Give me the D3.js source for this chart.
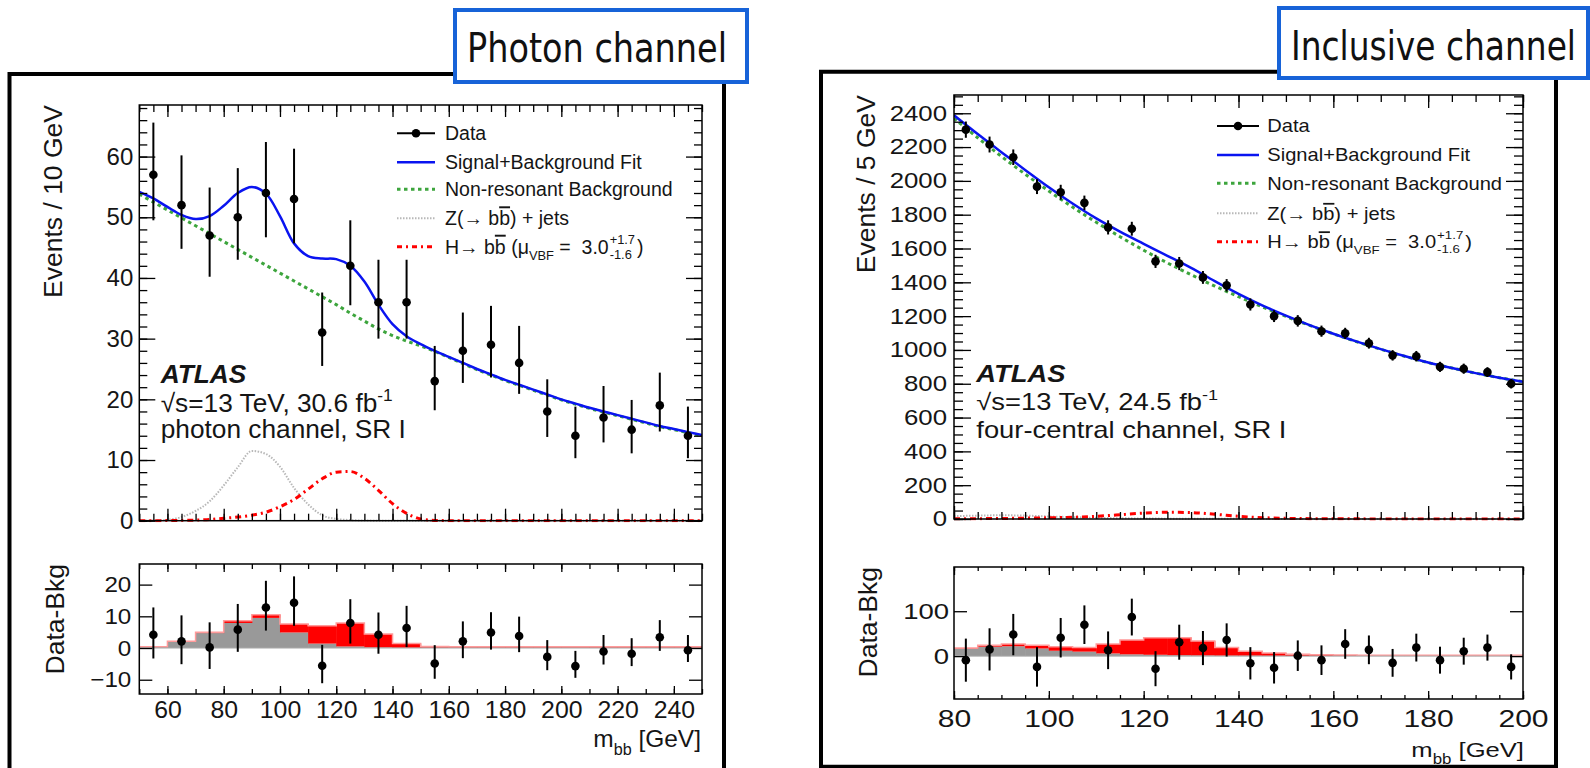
<!DOCTYPE html>
<html><head><meta charset="utf-8">
<script src="https://cdn.jsdelivr.net/npm/d3@7"></script>
<style>
body{margin:0;background:#fff;}
svg{display:block;}
text{font-family:"Liberation Sans",Arial,Helvetica,sans-serif;fill:#151515;white-space:pre;}
</style></head><body>
<svg id="c" width="1590" height="768"></svg>
<script>
// ---------------- DATA: photon channel (left) ----------------
const massL   = [55,65,75,85,95,105,115,125,135,145,155,165,175,185,195,205,215,225,235,245];
const dataL   = [57,52,47,50,54,53,31,42,36,36,23,28,29,26,18,14,17,15,19,14];
const errLoL  = [7.5,7.2,6.8,7.0,7.3,7.3,5.5,6.5,6.0,6.0,4.8,5.3,5.4,5.1,4.2,3.7,4.1,3.9,4.3,3.7];
const errHiL  = [8.6,8.2,7.9,8.1,8.4,8.3,6.6,7.5,7.0,7.0,5.8,6.3,6.4,6.1,5.3,4.8,5.2,4.9,5.4,4.8];
const residL  = [4.2,2.1,0.2,5.8,12.8,14.3,-5.6,7.9,4.2,6.3,-4.9,2.1,4.9,3.8,-2.8,-5.7,-1.1,-1.8,3.4,-0.7];
const gridL   = d3.range(50, 250.1, 5);
const fitL    = [54.2,53.1,51.7,50.4,49.7,50.2,51.9,54.0,55.0,53.9,50.2,45.7,43.6,43.2,43.1,42.0,39.4,35.6,32.4,30.4,29.1,28.0,
                 27.0,26.0,25.0,24.1,23.2,22.4,21.6,20.8,20.0,19.3,18.6,18.0,17.4,16.8,16.2,15.6,15.1,14.6,14.1];
const bgL     = [53.8,52.5,51.2,49.9,48.6,47.3,46.0,44.7,43.4,42.1,40.8,39.5,38.2,36.9,35.6,34.2,32.9,31.6,30.5,29.6,28.8,
                 27.9,26.9,25.9,24.9,24.0,23.1,22.3,21.5,20.7,19.9,19.2,18.5,17.9,17.3,16.7,16.1,15.5,15.0,14.5,14.0];
const zL      = [0,0.02,0.15,0.6,1.6,3.2,5.8,8.8,11.5,11.0,8.9,5.4,2.7,0.9,0.3,0.1,0.03,
                 0,0,0,0,0,0,0,0,0,0,0,0,0,0,0,0,0,0,0,0,0,0,0,0];
const hL      = [0,0,0.02,0.05,0.1,0.2,0.4,0.6,0.9,1.4,2.3,3.5,5.2,6.9,8.0,8.1,7.0,5.0,2.8,1.2,0.3,0.05,
                 0,0,0,0,0,0,0,0,0,0,0,0,0,0,0,0,0,0,0];
const binsL   = [50,60,70,80,90,100,110,120,130,140,150,160,170,180,190,200,210,220,230,240];
const zBinsL  = [0.3,1.9,4.7,7.9,9.5,4.9,1.4,0.5,0.2,0.1,0.1,0.1,0.1,0.1,0.1,0.1,0.1,0.1,0.1,0.1];
const hBinsL  = [0.1,0.2,0.3,0.7,1.0,2.7,5.6,7.4,4.2,1.3,0.4,0.3,0.3,0.3,0.3,0.3,0.3,0.3,0.3,0.3];

// ---------------- DATA: inclusive channel (right) ----------------
const massR   = [82.5,87.5,92.5,97.5,102.5,107.5,112.5,117.5,122.5,127.5,132.5,137.5,142.5,147.5,152.5,157.5,162.5,167.5,172.5,177.5,182.5,187.5,192.5,197.5];
const dataR   = [2303,2215,2140,1966,1933,1870,1725,1717,1524,1511,1429,1382,1269,1200,1172,1111,1098,1040,968,963,900,889,869,800];
const errR    = [48,47,46,44,44,43,42,41,39,39,38,37,36,35,34,33,33,32,31,31,30,30,29,28];
const residR  = [-9,15,48,-24,41,70,13,87,-28,31,18,36,-16,-26,1,-9,27,14,-15,19,-9,11,19,-24];
const gridR   = d3.range(80, 200.1, 5);
const fitR    = [2388,2277,2170,2065,1962,1866,1778,1700,1628,1557,1485,1407,1332,1264,1203,1147,1096,1049,1005,964,926,893,863,836,812];
const bgR     = [2370,2255,2145,2040,1940,1845,1755,1670,1590,1515,1445,1378,1315,1255,1198,1145,1095,1048,1004,963,925,893,863,836,812];
const zR      = [17,20,22,20,15,11,7,4.5,3,2,1.5,1,0.8,0.6,0.5,0.4,0.3,0.3,0.2,0.2,0.2,0.1,0.1,0.1,0.1];
const hR      = [1,2,3,5,7,10,16,25,35,40,38,28,16,8,4,2,1,0.8,0.6,0.5,0.4,0.3,0.3,0.2,0.2];
const binsR   = [80,85,90,95,100,105,110,115,120,125,130,135,140,145,150,155,160,165,170,175,180,185,190,195];
const zBinsR  = [17,21,22,17,12,10,6,4,3,2,1.5,1,1,0.8,0.6,0.5,0.4,0.4,0.3,0.3,0.3,0.2,0.2,0.2];
const hBinsR  = [1,3,5,7,9,9,21,32,38,39,32,18,10,6,3.5,2.5,2,1.6,1.6,1.6,1.6,1.6,1.6,1.6];

// ---------------- TEXT ----------------
const legendLabels = ["Data","Signal+Background Fit","Non-resonant Background"];

// ---------------- DRAWING ----------------
const svg = d3.select("#c");
const defs = svg.append("defs");
const BLUE = "#0a14f0", GREEN = "#3da53d", RED = "#ff0000", GRAYL = "#b8b8b8";

function addText(parent, x, y, str, o = {}) {
  return parent.append("text")
    .attr("transform", `translate(${x},${y}) rotate(${o.rot || 0}) scale(${o.sx || 1},1)`)
    .attr("text-anchor", o.anchor || "start")
    .style("font-size", (o.size || 20) + "px")
    .style("font-weight", o.weight || "normal")
    .style("font-style", o.style || "normal")
    .text(str);
}
function rich(parent, x, y, parts, size, sx, anchor) {
  const t = parent.append("text")
    .attr("transform", `translate(${x},${y}) scale(${sx},1)`)
    .attr("text-anchor", anchor || "start")
    .style("font-size", size + "px");
  let shift = 0;
  parts.forEach(p => {
    const target = p.sub ? size * 0.32 : p.sup ? -size * 0.42 : 0;
    const ts = t.append("tspan").attr("dy", target - shift).text(p.t);
    if (p.sub || p.sup) ts.style("font-size", (size * 0.66) + "px");
    if (p.over) ts.style("text-decoration", "overline");
    shift = target;
  });
  return t;
}

function ticks(g, x, y, c) {
  const [x0, x1] = x.range(); const [yb, yt] = y.range();
  const mk = (axis, tr) => g.append("g").attr("transform", tr).call(axis)
    .call(s => s.select(".domain").remove())
    .call(s => s.selectAll(".tick line").attr("stroke", "#000").attr("stroke-width", 1.3))
    .attr("font-family", null).attr("font-size", null);
  const xb = mk(d3.axisBottom(x).tickValues(c.xMaj).tickSize(-c.xMajLen).tickPadding(c.xPad || 0)
      .tickFormat(c.xLabels ? d3.format("d") : ""), `translate(0,${yb})`);
  mk(d3.axisBottom(x).tickValues(c.xMin).tickSize(-c.xMinLen).tickFormat(""), `translate(0,${yb})`);
  mk(d3.axisTop(x).tickValues(c.xMaj).tickSize(-c.xMajLen).tickFormat(""), `translate(0,${yt})`);
  mk(d3.axisTop(x).tickValues(c.xMin).tickSize(-c.xMinLen).tickFormat(""), `translate(0,${yt})`);
  const yl = mk(d3.axisLeft(y).tickValues(c.yMaj).tickSize(-c.yMajLen).tickPadding(c.yPad).tickFormat(d3.format("d")), `translate(${x0},0)`);
  mk(d3.axisRight(y).tickValues(c.yMaj).tickSize(-c.yMajLen).tickFormat(""), `translate(${x1},0)`);
  if (c.yMin) {
    mk(d3.axisLeft(y).tickValues(c.yMin).tickSize(-c.yMinLen).tickFormat(""), `translate(${x0},0)`);
    mk(d3.axisRight(y).tickValues(c.yMin).tickSize(-c.yMinLen).tickFormat(""), `translate(${x1},0)`);
  }
  yl.selectAll("text").attr("fill", "#151515").style("font-size", c.yFont + "px")
    .attr("x", -c.yPad / c.ySx).attr("transform", `scale(${c.ySx},1)`);
  if (c.xLabels) xb.selectAll("text").attr("fill", "#151515").style("font-size", c.xFont + "px")
    .attr("transform", `scale(${c.xSx},1)`);
}

function dataPoints(g, x, y, xs, vs, lo, hi, r) {
  const gp = g.append("g");
  gp.selectAll("line.e").data(xs).join("line")
    .attr("x1", d => x(d)).attr("x2", d => x(d))
    .attr("y1", (d, i) => y(vs[i] + hi[i])).attr("y2", (d, i) => y(vs[i] - lo[i]))
    .attr("stroke", "#000").attr("stroke-width", 2);
  gp.selectAll("circle").data(xs).join("circle")
    .attr("cx", d => x(d)).attr("cy", (d, i) => y(vs[i])).attr("r", r).attr("fill", "#000");
}

function curve(g, x, y, xs, vs, st, cv) {
  g.append("path").datum(xs)
    .attr("d", d3.line().x(d => x(d)).y((d, i) => y(vs[i])).curve(cv || d3.curveCatmullRom))
    .attr("fill", "none").attr("stroke", st.c).attr("stroke-width", st.w)
    .attr("stroke-dasharray", st.dash || null);
}

function panel(P) {
  const g = svg.append("g");
  const x = d3.scaleLinear().domain(P.xDom).range(P.xRange);
  const yT = d3.scaleLinear().domain(P.yTDom).range(P.yTRange);
  const yB = d3.scaleLinear().domain(P.yBDom).range(P.yBRange);
  const bw = P.binW;

  const cid = "clip" + P.id;
  defs.append("clipPath").attr("id", cid).append("rect")
    .attr("x", P.xRange[0]).attr("y", P.yTRange[1]).attr("width", P.xRange[1] - P.xRange[0]).attr("height", P.yTRange[0] - P.yTRange[1] + 1.5);
  const cidB = "clipB" + P.id;
  defs.append("clipPath").attr("id", cidB).append("rect")
    .attr("x", P.xRange[0]).attr("y", P.yBRange[1]).attr("width", P.xRange[1] - P.xRange[0]).attr("height", P.yBRange[0] - P.yBRange[1]);

  // ---- top panel
  const gt = g.append("g").attr("clip-path", `url(#${cid})`);
  curve(gt, x, yT, P.grid, P.z, {c: GRAYL, w: 2, dash: "1.5,1.5"}, d3.curveMonotoneX);
  curve(gt, x, yT, P.grid, P.h, {c: RED, w: 3, dash: "6,4,2,4"}, d3.curveMonotoneX);
  curve(gt, x, yT, P.grid, P.bg, {c: GREEN, w: 3, dash: "3.5,3.5"});
  curve(gt, x, yT, P.grid, P.fit, {c: BLUE, w: 2.5});
  dataPoints(g, x, yT, P.mass, P.data, P.errLo, P.errHi, 4.3);
  g.append("rect").attr("x", P.xRange[0]).attr("y", P.yTRange[1]).attr("width", P.xRange[1] - P.xRange[0])
    .attr("height", P.yTRange[0] - P.yTRange[1]).attr("fill", "none").attr("stroke", "#000").attr("stroke-width", 1.5);
  ticks(g, x, yT, P.tTop);

  // ---- bottom panel
  const gb = g.append("g").attr("clip-path", `url(#${cidB})`);
  gb.selectAll("rect.z").data(P.bins).join("rect")
    .attr("x", d => x(d)).attr("width", d => x(d + bw) - x(d) + 0.5)
    .attr("y", (d, i) => yB(P.zB[i])).attr("height", (d, i) => yB(0) - yB(P.zB[i]))
    .attr("fill", "#999999");
  gb.selectAll("rect.h").data(P.bins).join("rect")
    .attr("x", d => x(d)).attr("width", d => x(d + bw) - x(d) + 0.5)
    .attr("y", (d, i) => yB(P.zB[i] + P.hB[i])).attr("height", (d, i) => yB(P.zB[i]) - yB(P.zB[i] + P.hB[i]))
    .attr("fill", RED);
  const stepPts = [];
  P.bins.forEach((d, i) => { stepPts.push([x(d), yB(P.zB[i] + P.hB[i])]); stepPts.push([x(d + bw), yB(P.zB[i] + P.hB[i])]); });
  gb.append("path").attr("d", d3.line()(stepPts)).attr("fill", "none").attr("stroke", "#ff9a9a").attr("stroke-width", 1.5);
  gb.append("line").attr("x1", P.xRange[0]).attr("x2", P.xRange[1]).attr("y1", yB(0)).attr("y2", yB(0))
    .attr("stroke", "#aaaaaa").attr("stroke-width", 1);
  dataPoints(g, x, yB, P.mass, P.resid, P.errLo, P.errHi, 4.3);
  g.append("rect").attr("x", P.xRange[0]).attr("y", P.yBRange[1]).attr("width", P.xRange[1] - P.xRange[0])
    .attr("height", P.yBRange[0] - P.yBRange[1]).attr("fill", "none").attr("stroke", "#000").attr("stroke-width", 1.5);
  ticks(g, x, yB, P.tBot);

  // ---- legend
  const L = P.leg;
  const styles = [null, {c: BLUE, w: 2.5}, {c: GREEN, w: 3, dash: "3.5,3.5"}, {c: GRAYL, w: 2, dash: "1.5,1.5"}, {c: RED, w: 3, dash: "5,4,2,4"}];
  L.ys.forEach((yy, i) => {
    if (i === 0) {
      g.append("line").attr("x1", L.x0).attr("x2", L.x1).attr("y1", yy).attr("y2", yy).attr("stroke", "#000").attr("stroke-width", 2);
      g.append("circle").attr("cx", (L.x0 + L.x1) / 2).attr("cy", yy).attr("r", 4.3).attr("fill", "#000");
    } else {
      const s = styles[i];
      g.append("line").attr("x1", L.x0).attr("x2", L.x1).attr("y1", yy).attr("y2", yy)
        .attr("stroke", s.c).attr("stroke-width", s.w).attr("stroke-dasharray", s.dash || null);
    }
  });
  const bl = L.size * 0.36;
  legendLabels.forEach((t, i) => addText(g, L.tx, L.ys[i] + bl, t, {size: L.size, sx: L.sx}));
  rich(g, L.tx, L.ys[3] + bl, [{t: "Z(→ b"}, {t: "b", over: true}, {t: ") + jets"}], L.size, L.sx);
  const hT = rich(g, L.tx, L.ys[4] + bl, [{t: "H→ b"}, {t: "b", over: true}, {t: " (μ"}, {t: "VBF", sub: true}, {t: " =  3.0"}], L.size, L.sx);
  const len = hT.node().getComputedTextLength() * L.sx;
  const ss = L.size * 0.66;
  const up = addText(g, L.tx + len + 1, L.ys[4] + bl - L.size * 0.5, "+1.7", {size: ss, sx: L.sx});
  const dn = addText(g, L.tx + len + 1, L.ys[4] + bl + L.size * 0.28, "-1.6", {size: ss, sx: L.sx});
  const w2 = Math.max(up.node().getComputedTextLength(), dn.node().getComputedTextLength()) * L.sx;
  addText(g, L.tx + len + w2 + 3, L.ys[4] + bl, ")", {size: L.size, sx: L.sx});

  // ---- ATLAS label
  const A = P.atlas;
  addText(g, A.x, A.y[0], "ATLAS", {size: A.size, sx: A.sx, weight: "bold", style: "italic"});
  rich(g, A.x, A.y[1], [{t: "√s=13 TeV, " + P.lumi + " fb"}, {t: "-1", sup: true}], A.size, A.sx);
  addText(g, A.x, A.y[2], P.chan, {size: A.size, sx: A.sx});

  // ---- axis titles
  const T = P.titles;
  addText(g, T.evX, P.yTRange[1], P.evTitle, {size: T.size, rot: -90, anchor: "end"});
  addText(g, T.dbX, P.yBRange[1], "Data-Bkg", {size: T.size, rot: -90, anchor: "end"});
  rich(g, P.xRange[1] + T.mOff, T.mY, [{t: "m"}, {t: "bb", sub: true}, {t: " [GeV]"}], T.mSize, T.mSx, "end");

  // ---- outer frame + channel box
  const F = P.frame;
  svg.append("path").attr("d", `M${F.x0},${F.yb} L${F.x0},${F.yt} L${F.x1},${F.yt} L${F.x1},${F.yb}` + (F.closed ? "Z" : ""))
    .attr("fill", "none").attr("stroke", "#000").attr("stroke-width", 4);
  const B = P.box;
  svg.append("rect").attr("x", B.x).attr("y", B.y).attr("width", B.w).attr("height", B.h)
    .attr("fill", "#fff").attr("stroke", "#1763d8").attr("stroke-width", 4);
  svg.append("text").attr("transform", `translate(${B.tx},${B.ty}) scale(1,${B.sy})`)
    .attr("textLength", B.tl).attr("lengthAdjust", "spacingAndGlyphs")
    .style("font-family", '"Liberation Sans Narrow","DejaVu Sans Condensed","Roboto Condensed",sans-serif')
    .style("font-size", B.fs + "px").style("fill", "#111").text(B.text);
}

panel({
  id: "L", xDom: [50, 250], xRange: [139.3, 702], yTDom: [0, 68.5], yTRange: [520.7, 105],
  yBDom: [-14.5, 26.5], yBRange: [694, 564], binW: 10,
  grid: gridL, fit: fitL, bg: bgL, z: zL, h: hL,
  mass: massL, data: dataL, errLo: errLoL, errHi: errHiL, resid: residL,
  bins: binsL, zB: zBinsL, hB: hBinsL,
  tTop: {xMaj: d3.range(60, 241, 20), xMin: d3.range(50, 251, 5), xMajLen: 12, xMinLen: 7,
         yMaj: d3.range(0, 61, 10), yMin: d3.range(0, 69, 2), yMajLen: 16, yMinLen: 8, yPad: 6, yFont: 24, ySx: 1.0},
  tBot: {xMaj: d3.range(60, 241, 20), xMin: d3.range(50, 251, 10), xMajLen: 8, xMinLen: 5, xLabels: true, xPad: 8, xFont: 23, xSx: 1.08,
         yMaj: [-10, 0, 10, 20], yMajLen: 13, yPad: 8, yFont: 22, ySx: 1.1},
  leg: {x0: 397, x1: 435, tx: 445, ys: [133.3, 162.3, 189.3, 218.3, 246.7], size: 19.5, sx: 1.0},
  atlas: {x: 160.7, y: [383, 411.7, 438.3], size: 25.5, sx: 1.03},
  lumi: "30.6", chan: "photon channel, SR I", evTitle: "Events / 10 GeV",
  titles: {evX: 62, dbX: 64, size: 26.5, mOff: -1, mY: 747, mSize: 24, mSx: 1.02},
  frame: {x0: 9.5, x1: 724, yt: 74, yb: 800, closed: false},
  box: {x: 455, y: 10, w: 292, h: 72, tx: 467, ty: 62, tl: 260, fs: 29, sy: 1.42, text: "Photon channel"}
});

panel({
  id: "R", xDom: [80, 200], xRange: [954, 1523], yTDom: [0, 2508], yTRange: [519, 95],
  yBDom: [-95.5, 198.5], yBRange: [699, 567], binW: 5,
  grid: gridR, fit: fitR, bg: bgR, z: zR, h: hR,
  mass: massR, data: dataR, errLo: errR, errHi: errR, resid: residR,
  bins: binsR, zB: zBinsR, hB: hBinsR,
  tTop: {xMaj: d3.range(80, 201, 20), xMin: d3.range(80, 201, 5), xMajLen: 13, xMinLen: 7,
         yMaj: d3.range(0, 2401, 200), yMin: d3.range(0, 2501, 50), yMajLen: 17, yMinLen: 9, yPad: 7, yFont: 21.5, ySx: 1.2},
  tBot: {xMaj: d3.range(80, 201, 20), xMin: d3.range(80, 201, 5), xMajLen: 8, xMinLen: 4, xLabels: true, xPad: 11, xFont: 23.5, xSx: 1.28,
         yMaj: [0, 100], yMajLen: 13, yPad: 5, yFont: 22, ySx: 1.25},
  leg: {x0: 1217, x1: 1259, tx: 1267.3, ys: [126, 155, 183.3, 213.3, 241.7], size: 17.5, sx: 1.15},
  atlas: {x: 976.3, y: [381.7, 410, 438.3], size: 23, sx: 1.19},
  lumi: "24.5", chan: "four-central channel, SR I", evTitle: "Events / 5 GeV",
  titles: {evX: 875, dbX: 876.5, size: 26.5, mOff: 1, mY: 757, mSize: 21, mSx: 1.22},
  frame: {x0: 821, x1: 1556, yt: 71.7, yb: 766.7, closed: true},
  box: {x: 1279, y: 8, w: 309, h: 70, tx: 1291, ty: 60, tl: 285, fs: 29, sy: 1.42, text: "Inclusive channel"}
});
</script></body></html>
